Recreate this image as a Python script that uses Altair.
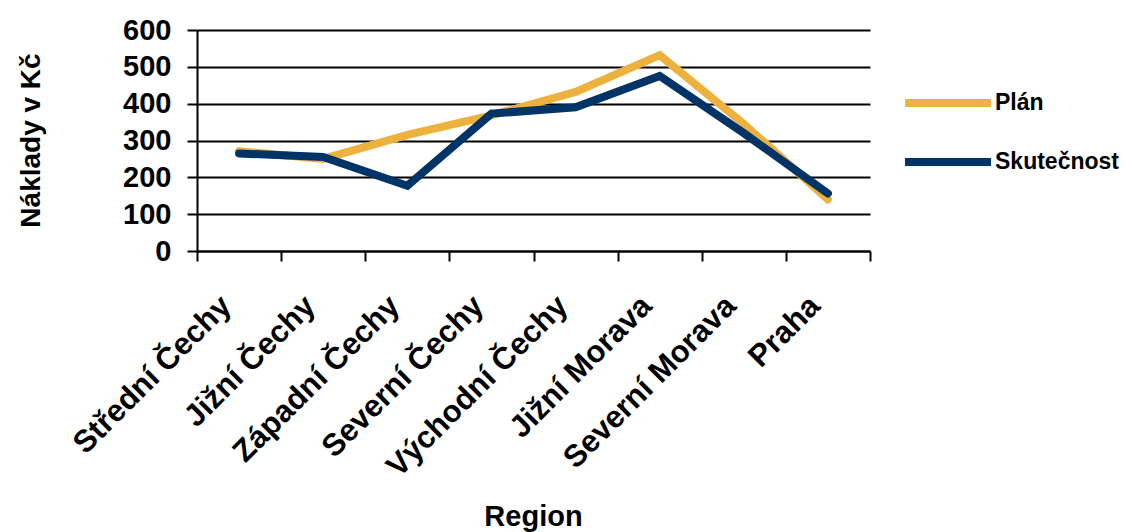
import altair as alt
import pandas as pd

regions = ["Střední Čechy", "Jižní Čechy", "Západní Čechy", "Severní Čechy",
           "Východní Čechy", "Jižní Morava", "Severní Morava", "Praha"]
plan = [271, 250, 315, 368, 432, 532, 345, 140]
skutecnost = [265, 255, 177, 373, 390, 475, 320, 156]
series = ["Plán", "Skutečnost"]
colors = ["#EDB23E", "#003366"]
y_ticks = [0, 100, 200, 300, 400, 500, 600]

rows = []
for i, r in enumerate(regions):
    rows.append({"Region": r, "Série": series[0], "Hodnota": plan[i], "ord": 0})
for i, r in enumerate(regions):
    rows.append({"Region": r, "Série": series[1], "Hodnota": skutecnost[i], "ord": 1})
df = pd.DataFrame(rows)

FONT = "Liberation Sans"

chart = alt.Chart(df).mark_line(strokeWidth=8, strokeCap="round", strokeJoin="miter").encode(
    x=alt.X("Region:N", sort=regions, bandPosition=0.5,
            scale=alt.Scale(type="band", paddingInner=0, paddingOuter=0),
            axis=alt.Axis(title="Region", labelAngle=-45, labelAlign="right",
                          labelBaseline="middle", labelPadding=40, labelOffset=-13,
                          labelFontSize=31, labelFont=FONT, labelFontWeight="bold",
                          labelColor="black", labelOverlap=False, labelLimit=400,
                          tickBand="extent", tickSize=10, tickWidth=2, tickColor="black",
                          domainColor="black", domainWidth=2, grid=False,
                          titleFontSize=29, titleFont=FONT, titleFontWeight="bold",
                          titleColor="black", titleX=336, titleY=274,
                          titleBaseline="alphabetic", titleAlign="center")),
    y=alt.Y("Hodnota:Q", scale=alt.Scale(domain=[0, 600], nice=False),
            axis=alt.Axis(title="Náklady v Kč", values=y_ticks, labelFontSize=29,
                          labelFont=FONT, labelFontWeight="bold", labelColor="black",
                          labelPadding=16, tickSize=10, tickWidth=2, tickColor="black",
                          domainColor="black", domainWidth=2, grid=True,
                          gridColor="black", gridWidth=2, gridOpacity=1,
                          titleFontSize=28, titleFont=FONT, titleFontWeight="bold",
                          titleColor="black", titleAngle=-90, titleX=-166, titleY=110,
                          titleAlign="center", titleBaseline="middle")),
    color=alt.Color("Série:N", sort=series,
                    scale=alt.Scale(domain=series, range=colors),
                    legend=alt.Legend(title=None, orient="none", legendX=704, legendY=58,
                                      symbolType="stroke", symbolSize=7396,
                                      symbolStrokeWidth=8, clipHeight=30, rowPadding=29,
                                      labelFontSize=23, labelFont=FONT,
                                      labelFontWeight="bold", labelColor="black",
                                      labelOffset=0)),
    order=alt.Order("ord:Q"),
).properties(
    width=673, height=221,
    autosize=alt.AutoSizeParams(type="none"),
    padding={"left": 197, "top": 30, "right": 256, "bottom": 281},
).configure_view(stroke=None)

chart.save("out.html", embed_options={"renderer": "svg", "actions": False})
